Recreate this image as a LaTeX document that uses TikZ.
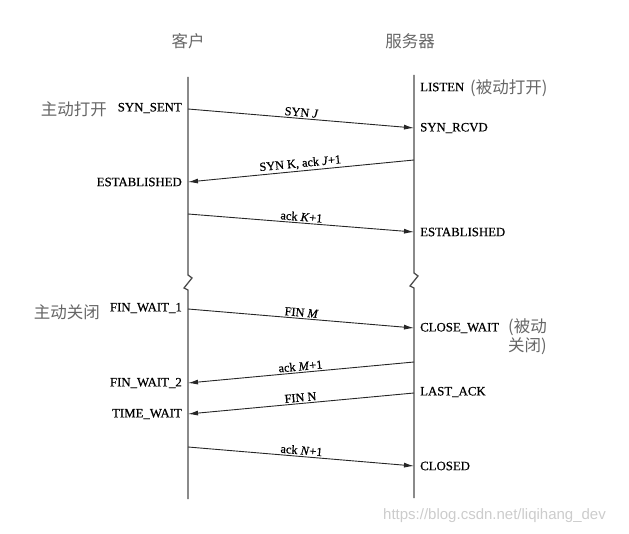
\documentclass[tikz,border=0pt]{standalone}
\usepackage{fontspec}
\setmainfont{Liberation Serif}
\newfontfamily\stfont{Liberation Serif}[FakeBold=0.5]
\newfontfamily\cjk{Noto Sans CJK SC}
\newfontfamily\wmfont{Liberation Sans}
\usetikzlibrary{arrows.meta}
\begin{document}
\begin{tikzpicture}[x=1pt,y=-1pt,
  lifeline/.style={draw=black!70, line width=1.3pt},
  msg/.style={draw=black!85, line width=0.9pt, -{Latex[length=10pt,width=5pt]}},
  stL/.style={anchor=east, font=\stfont\fontsize{12.8}{14}\selectfont, inner sep=0pt},
  stR/.style={anchor=west, font=\stfont\fontsize{12.8}{14}\selectfont, inner sep=0pt},
  cn/.style={font=\cjk\fontsize{16.5}{20}\selectfont, text=black!60, inner sep=0pt},
  lbl/.style={font=\stfont\fontsize{12.3}{14}\selectfont, sloped, above, inner sep=1.5pt, pos=0.5}]
\useasboundingbox (0,0) rectangle (629,534);

% headers
\node[cn] (hc) at (188,41) {客户};
\node[cn] (hs) at (410,41) {服务器};

% lifelines with break marks
\coordinate (ctop) at (188,77);
\coordinate (cbot) at (188,499);
\coordinate (stop) at (414,75);
\coordinate (sbot) at (414,498);
\draw[lifeline] (ctop) -- (188,275) -- (192,278) -- (184,288) -- (188,290) -- (cbot);
\draw[lifeline] (stop) -- (414,273) -- (418,276) -- (410,286) -- (414,288) -- (sbot);

% points on lifelines
\coordinate (c1) at (188,109);
\coordinate (s1) at (414,128);
\coordinate (s2) at (414,160);
\coordinate (c2) at (188,182);
\coordinate (c3) at (188,214);
\coordinate (s3) at (414,232);
\coordinate (c4) at (188,309);
\coordinate (s4) at (414,328);
\coordinate (s5) at (414,362);
\coordinate (c5) at (188,383);
\coordinate (s6) at (414,393);
\coordinate (c6) at (188,414);
\coordinate (c7) at (188,447);
\coordinate (s7) at (414,466);

% client states
\node[stL] (synsent) at (182,108) {SYN\_SENT};
\node[cn, anchor=east] (actopen) at (107,109) {主动打开};
\node[stL] (estc) at (182,182) {ESTABLISHED};
\node[stL] (fw1) at (182,308) {FIN\_WAIT\_1};
\node[cn, anchor=east] (actclose) at (100,312) {主动关闭};
\node[stL] (fw2) at (182,383) {FIN\_WAIT\_2};
\node[stL] (tw) at (182,414) {TIME\_WAIT};

% server states
\node[stR] (listen) at (420,87) {LISTEN};
\node[cn, anchor=west] (pasopen) at (470,88) {(被动打开)};
\node[stR] (synrcvd) at (420,128) {SYN\_RCVD};
\node[stR] (ests) at (420,232) {ESTABLISHED};
\node[stR] (cw) at (420,328) {CLOSE\_WAIT};
\node[cn, anchor=north west, align=left] (pasclose) at (508,318) {(被动\\[-1pt]关闭)};
\node[stR] (lastack) at (420,392) {LAST\_ACK};
\node[stR] (closed) at (420,466) {CLOSED};

% messages
\draw[msg] (c1) -- node[lbl] {SYN \textit{J}} (s1);
\draw[msg] (s2) -- node[lbl] {SYN K, ack \textit{J}+1} (c2);
\draw[msg] (c3) -- node[lbl] {ack \textit{K}+1} (s3);
\draw[msg] (c4) -- node[lbl] {FIN \textit{M}} (s4);
\draw[msg] (s5) -- node[lbl] {ack \textit{M}+1} (c5);
\draw[msg] (s6) -- node[lbl] {FIN N} (c6);
\draw[msg] (c7) -- node[lbl] {ack \textit{N}+1} (s7);

% watermark
\node[font=\wmfont\fontsize{15}{17}\selectfont, text=black!20, anchor=west, inner sep=0pt] (wm) at (383,516) {https://blog.csdn.net/liqihang\_dev};
\end{tikzpicture}
\end{document}
